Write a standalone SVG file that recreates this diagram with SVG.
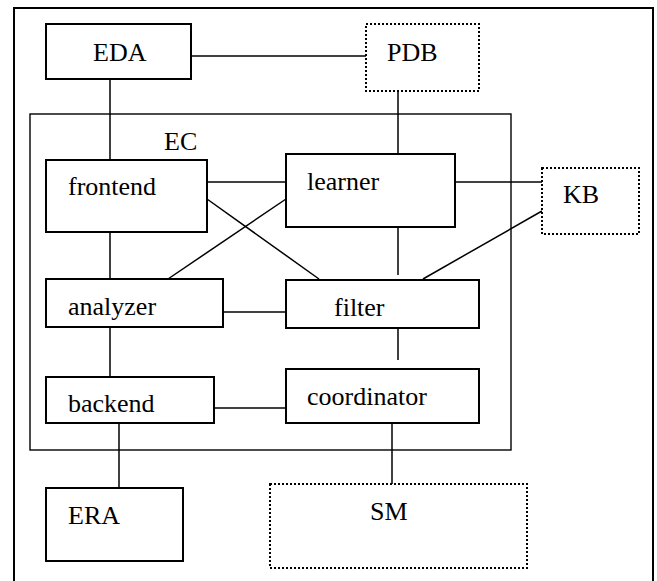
<svg xmlns="http://www.w3.org/2000/svg" width="657" height="581" viewBox="0 0 657 581">
<style>
.box{fill:#fff;stroke:#000;stroke-width:2}
.dot{fill:#fff;stroke:#000;stroke-width:2;stroke-dasharray:2 2}
.ln{fill:none;stroke:#000;stroke-width:1.5}
text{font-family:"Liberation Serif","Times New Roman",serif;font-size:26px;fill:#000}
</style>
<rect width="657" height="581" fill="#fff"/>
<path id="frame" d="M14,590 V8 H653 V590" fill="none" stroke="#000" stroke-width="2"/>
<g id="EC">
<rect x="30" y="114" width="481" height="336" fill="none" stroke="#000" stroke-width="1.4"/>
<text x="164" y="150">EC</text>
</g>
<g id="connectors">
<line class="ln" x1="191" y1="56" x2="366" y2="56"/>
<line class="ln" x1="110" y1="72" x2="110" y2="160"/>
<line class="ln" x1="398" y1="91" x2="398" y2="154"/>
<line class="ln" x1="207" y1="182" x2="286" y2="182"/>
<line class="ln" x1="455" y1="182" x2="542" y2="182"/>
<line class="ln" x1="542" y1="211" x2="423" y2="279"/>
<line class="ln" x1="398" y1="227" x2="398" y2="275"/>
<line class="ln" x1="110" y1="232" x2="110" y2="279"/>
<line class="ln" x1="286" y1="199" x2="168" y2="279"/>
<line class="ln" x1="207" y1="199" x2="319" y2="279"/>
<line class="ln" x1="223" y1="312" x2="286" y2="312"/>
<line class="ln" x1="398" y1="329" x2="398" y2="360"/>
<line class="ln" x1="110" y1="327" x2="110" y2="377"/>
<line class="ln" x1="214" y1="408" x2="295" y2="408"/>
<line class="ln" x1="119" y1="423" x2="119" y2="488"/>
<line class="ln" x1="392" y1="423" x2="392" y2="488"/>
</g>
<g id="EDA"><rect class="box" x="46" y="24" width="145" height="55"/><text x="93" y="61">EDA</text></g>
<g id="PDB"><rect class="dot" x="366" y="24" width="113" height="67"/><text x="387" y="61">PDB</text></g>
<g id="frontend"><rect class="box" x="46" y="160" width="161" height="72"/><text x="68" y="195">frontend</text></g>
<g id="learner"><rect class="box" x="286" y="154" width="169" height="73"/><text x="307" y="190">learner</text></g>
<g id="KB"><rect class="dot" x="542" y="168" width="97" height="66"/><text x="563" y="203">KB</text></g>
<g id="analyzer"><rect class="box" x="46" y="279" width="177" height="48"/><text x="68" y="315">analyzer</text></g>
<g id="filter"><rect class="box" x="286" y="280" width="193" height="48"/><text x="334" y="316">filter</text></g>
<g id="backend"><rect class="box" x="46" y="377" width="168" height="46"/><text x="68" y="412">backend</text></g>
<g id="coordinator"><rect class="box" x="286" y="369" width="193" height="54"/><text x="307" y="405">coordinator</text></g>
<g id="ERA"><rect class="box" x="46" y="488" width="137" height="73"/><text x="68" y="524">ERA</text></g>
<g id="SM"><rect class="dot" x="270" y="484" width="257" height="84"/><text x="370" y="520">SM</text></g>
</svg>
